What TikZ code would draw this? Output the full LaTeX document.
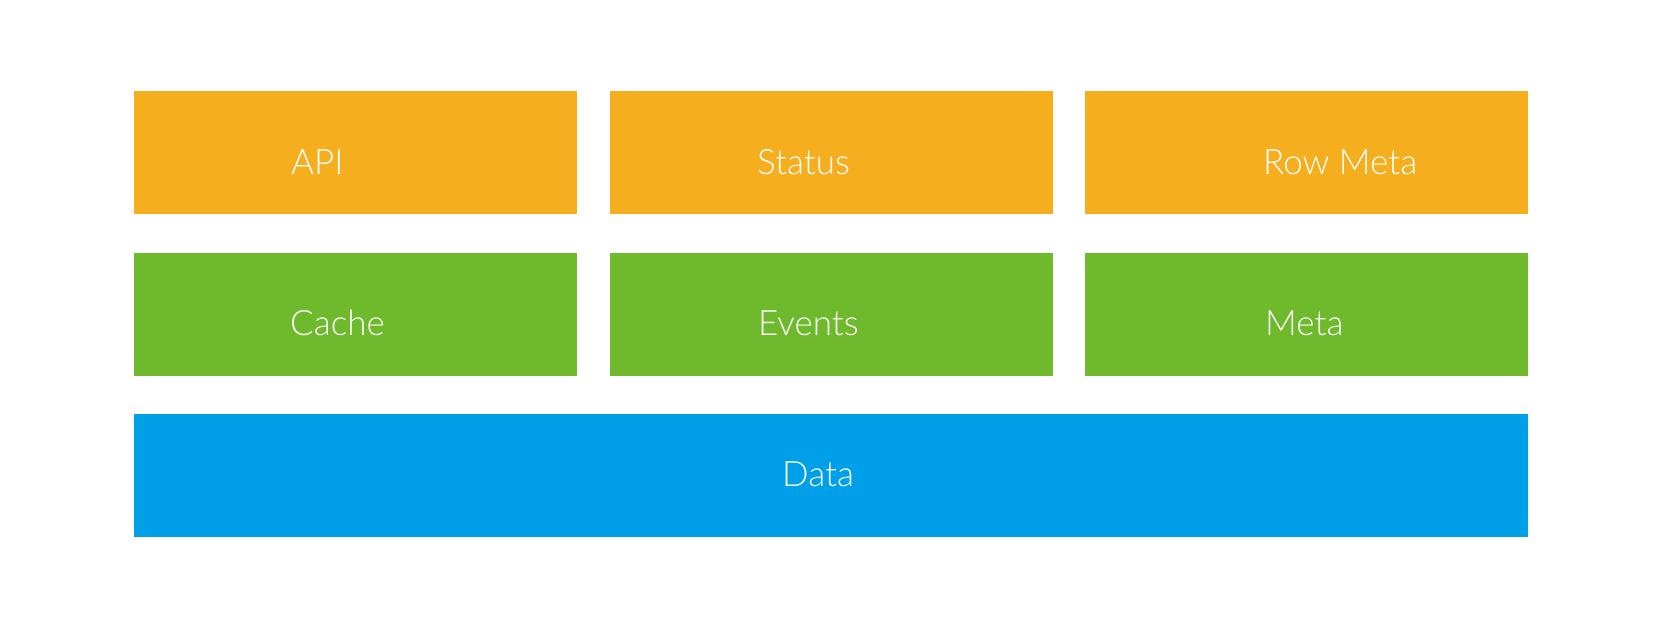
\documentclass[tikz,border=0pt]{standalone}
\usepackage{fontspec}
\setmainfont{Lato}[UprightFont=* Light]
\definecolor{orangebox}{RGB}{244,174,30}
\definecolor{greenbox}{RGB}{111,186,44}
\definecolor{bluebox}{RGB}{0,160,232}
\tikzset{
  layer/.style={draw=none, inner sep=0pt, outer sep=0pt, anchor=north west, minimum height=123pt},
  col/.style={layer, minimum width=443pt},
  lbl/.style={text=white, inner sep=0pt, anchor=base west, font=\fontsize{35}{40}\selectfont}
}
\begin{document}
\begin{tikzpicture}[x=1pt,y=-1pt]
\useasboundingbox (0,0) rectangle (1664,644);
\node[col, fill=orangebox] (b11) at (134,91.5) {};
\node[col, fill=orangebox] (b12) at (609.5,91.5) {};
\node[col, fill=orangebox] (b13) at (1085,91.5) {};
\node[col, fill=greenbox] (b21) at (134,252.7) {};
\node[col, fill=greenbox] (b22) at (609.5,252.7) {};
\node[col, fill=greenbox] (b23) at (1085,252.7) {};
\node[layer, fill=bluebox, minimum width=1394pt] (b3) at (134,414) {};
\node[lbl] (tapi) at (291,175) {API};
\node[lbl] (tstatus) at (757,175) {Status};
\node[lbl] (trow) at (1263,175) {Row Meta};
\node[lbl] (tcache) at (290,335.5) {Cache};
\node[lbl] (tevents) at (758,335.5) {Events};
\node[lbl] (tmeta) at (1265,335.5) {Meta};
\node[lbl] (tdata) at (782,486) {Data};
\end{tikzpicture}
\end{document}
